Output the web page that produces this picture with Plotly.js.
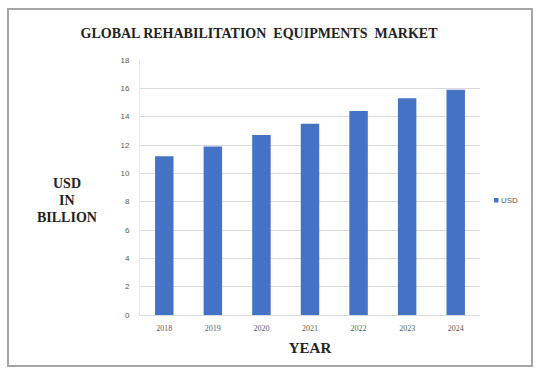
<!DOCTYPE html>
<html><head><meta charset="utf-8">
<script src="https://cdn.plot.ly/plotly-3.0.1.min.js"></script>
<style>html,body{margin:0;padding:0;background:#fff}#c{width:543px;height:379px}</style>
</head><body><div id="c"></div>
<script>
const years = ['2018','2019','2020','2021','2022','2023','2024'];
const usd = [11.2, 11.9, 12.7, 13.5, 14.4, 15.3, 15.9];
const yTicks = [0,2,4,6,8,10,12,14,16,18];
const yTitleLines = ['USD','IN','BILLION'];
const seriesName = 'USD';
const barColor = '#4472C4';

const L=140, R=480, T=60, B=315, W=543, H=379;
const px = x => (x - L)/(R - L);
const py = y => (B - y)/(B - T);

const serifBold = {family:'Liberation Serif, Times New Roman, serif', size:14, weight:'bold', color:'#222'};
const yTitleAnn = yTitleLines.map((t, i) => ({
  text: t, xref:'paper', yref:'paper', x:px(67), y:py(183 + i*17),
  xanchor:'center', yanchor:'middle', showarrow:false, font: serifBold
}));

Plotly.newPlot('c', [{
  type:'bar', x: years, y: usd, name: seriesName,
  marker:{color: barColor}
}], {
  width:W, height:H,
  margin:{l:L, r:W-R, t:T, b:H-B, pad:0, autoexpand:false},
  paper_bgcolor:'#fff', plot_bgcolor:'#fff',
  bargap:0.62,
  showlegend:false,
  title:{text:'GLOBAL REHABILITATION  EQUIPMENTS  MARKET', x:259/W, xanchor:'center', y:1-33/H, yanchor:'middle',
    font:{family:'Liberation Serif', size:14, weight:'bold', color:'#222'}},
  xaxis:{type:'category', showgrid:false, showline:true, linecolor:'#d9d9d9', linewidth:1,
    ticks:'', ticklabelstandoff:5, tickfont:{family:'Liberation Serif', size:8, color:'#595959'},
    title:{text:'YEAR', font:{family:'Liberation Serif', size:15, weight:'bold', color:'#222'}, standoff:10}},
  yaxis:{range:[0,18], tickvals:yTicks, showgrid:true, gridcolor:'#d9d9d9', gridwidth:1,
    showline:true, linecolor:'#e4e8f0', zeroline:false, ticks:'', ticklabelstandoff:8,
    tickfont:{family:'Liberation Sans', size:8, color:'#595959'}},
  annotations: yTitleAnn.concat([
    {text: seriesName, xref:'paper', yref:'paper', x:px(499), y:py(200),
      xanchor:'left', yanchor:'middle', showarrow:false,
      font:{family:'Liberation Sans', size:8, color:'#595959'}}
  ]),
  shapes:[
    {type:'rect', xref:'paper', yref:'paper', x0:px(8), x1:px(532), y0:py(366), y1:py(9),
      line:{color:'#a6a6a6', width:2}, layer:'below'},
    {type:'rect', xref:'paper', yref:'paper', x0:px(494), x1:px(498.5), y0:py(202.5), y1:py(198),
      line:{width:0}, fillcolor: barColor}
  ]
}, {displayModeBar:false, staticPlot:true});
</script></body></html>
